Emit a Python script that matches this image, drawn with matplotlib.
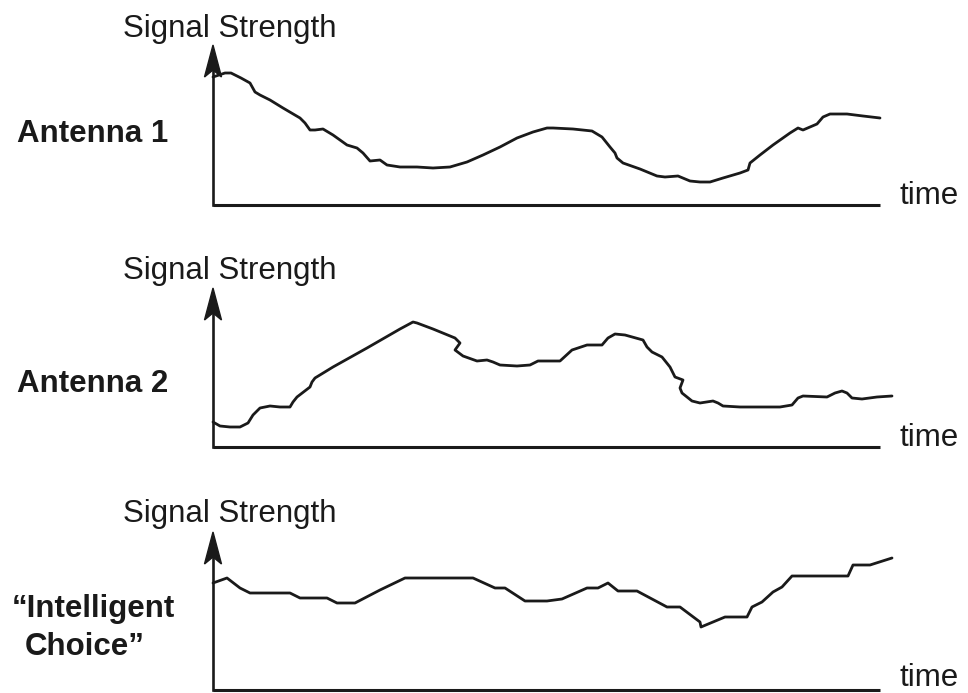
import matplotlib
matplotlib.use('Agg')
import matplotlib.pyplot as plt
from matplotlib.patches import Polygon

plt.rcParams['font.family'] = ['Liberation Sans', 'DejaVu Sans']

# signal traces (time, strength), arbitrary units
ant1_t = [0, 12, 18, 28, 37, 42, 47, 57, 70, 87, 92, 97, 102, 110, 120, 134, 144, 150,
          157, 167, 174, 187, 204, 220, 237, 254, 270, 287, 304, 320, 334, 340, 360,
          379, 389, 397, 402, 404, 410, 427, 444, 452, 465, 477, 487, 497, 510, 527,
          535, 537, 547, 560, 577, 585, 590, 604, 610, 617, 634, 650, 667]
ant1_s = [128, 132, 132, 127, 122, 113, 110, 105, 97, 87, 82, 75, 75, 76, 70, 60, 57, 52,
          44, 45, 40, 38, 38, 37, 38, 43, 50, 58, 67, 73, 77, 77, 76,
          74, 68, 58, 52, 47, 42, 36, 29, 28, 29, 24, 23, 23, 27, 32,
          35, 42, 50, 60, 72, 77, 75, 81, 88, 91, 91, 89, 87]

ant2_t = [0, 7, 17, 27, 35, 40, 47, 57, 67, 77, 80, 84, 97, 99, 102, 120, 154, 187,
          200, 204, 220, 242, 247, 242, 250, 264, 274, 280, 287, 304, 317, 325, 337,
          347, 359, 374, 389, 395, 402, 412, 430, 434, 439, 449, 457, 462, 470, 467,
          469, 479, 487, 500, 505, 510, 527, 544, 567, 579, 585, 590, 614, 622, 629,
          634, 639, 649, 664, 679]
ant2_s = [25, 21, 20, 20, 24, 32, 39, 41, 40, 40, 45, 50, 60, 65, 69, 80, 99, 118,
          125, 124, 118, 109, 104, 97, 91, 86, 87, 85, 82, 81, 82, 86, 86,
          86, 97, 102, 102, 109, 113, 112, 107, 100, 95, 90, 80, 70, 67, 59,
          54, 46, 44, 46, 44, 41, 40, 40, 40, 42, 49, 51, 50, 54, 56,
          54, 49, 48, 50, 51]

ic_t = [0, 14, 27, 37, 77, 87, 114, 124, 142, 167, 192, 260, 282, 292, 312, 334,
        349, 374, 385, 395, 405, 424, 454, 467, 487, 488, 512, 534, 539, 549, 560,
        569, 579, 635, 640, 657, 679]
ic_s = [107, 112, 102, 97, 97, 92, 92, 87, 87, 100, 112, 112, 102, 102, 89, 89,
        91, 102, 102, 107, 99, 99, 83, 83, 68, 63, 73, 73, 83, 88, 98,
        103, 114, 114, 125, 125, 132]

panels = [
    ('Antenna 1', ant1_t, ant1_s),
    ('Antenna 2', ant2_t, ant2_s),
    ('\u201cIntelligent\nChoice\u201d', ic_t, ic_s),
]

W, H = 968, 693
fig = plt.figure(figsize=(W / 100, H / 100), dpi=100)

origins = [205, 447, 690]   # pixel row of each time axis
heights = [160, 159, 158]   # arrow length in pixels
label_y = [142, 392, 617]
time_y = [204, 446, 686]
fs = 22.5
ink = '#1a1a1a'

for (name, t, s), oy, h, ly, ty in zip(panels, origins, heights, label_y, time_y):
    ax = fig.add_axes([213 / W, (H - oy) / H, 667 / W, h / H])
    ax.set_xlim(0, 667)
    ax.set_ylim(0, h)
    ax.axis('off')
    ax.plot(t, s, color=ink, lw=2.0, clip_on=False,
            solid_joinstyle='round', solid_capstyle='round')
    # axes
    ax.plot([0, 667], [0, 0], color=ink, lw=2.2, clip_on=False, solid_capstyle='butt')
    ax.plot([0, 0], [0, h - 20], color=ink, lw=1.9, clip_on=False)
    ax.add_patch(Polygon([(0, h), (-8.5, h - 32), (0, h - 25), (8.5, h - 32)],
                         closed=True, color=ink, clip_on=False))

    fig.text(123 / W, 1 - (oy - 168) / H, 'Signal Strength', fontsize=fs,
             color=ink, va='baseline', ha='left')
    fig.text(899 / W, 1 - ty / H, 'time', fontsize=fs,
             color=ink, va='baseline', ha='left')
    if '\n' in name:
        l1, l2 = name.split('\n')
        fig.text(12 / W, 1 - ly / H, l1, fontsize=fs, fontweight='bold',
                 color=ink, va='baseline', ha='left')
        fig.text(25 / W, 1 - (ly + 38) / H, l2, fontsize=fs, fontweight='bold',
                 color=ink, va='baseline', ha='left')
    else:
        fig.text(17 / W, 1 - ly / H, name, fontsize=fs, fontweight='bold',
                 color=ink, va='baseline', ha='left')

fig.savefig('out.png', dpi=100)
